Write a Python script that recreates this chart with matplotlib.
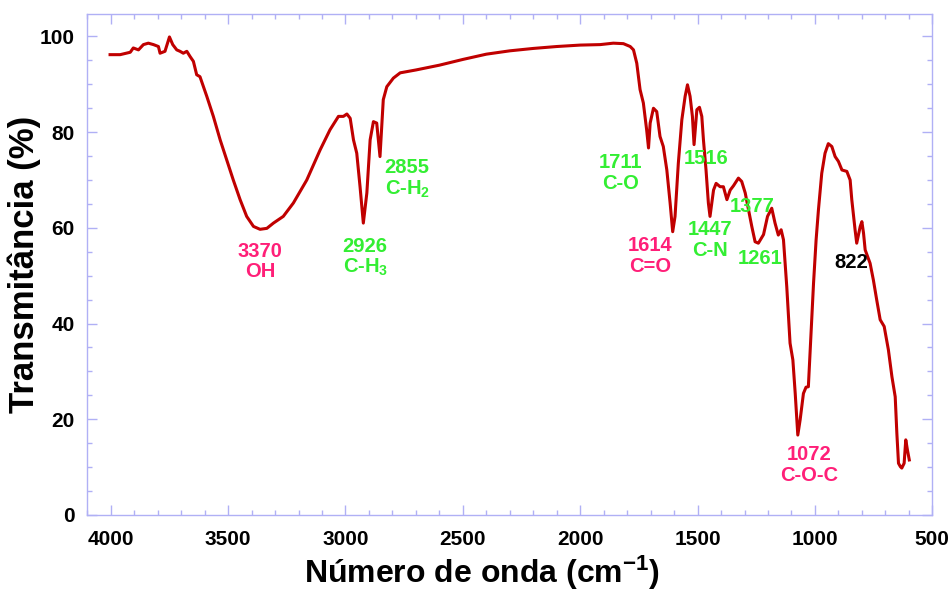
import matplotlib
matplotlib.use('Agg')
import matplotlib.pyplot as plt
from matplotlib.ticker import MultipleLocator

plt.rcParams['font.family'] = ['Liberation Sans', 'DejaVu Sans']
plt.rcParams['font.weight'] = 'bold'
plt.rcParams['mathtext.fontset'] = 'custom'
plt.rcParams['mathtext.rm'] = 'Liberation Sans:bold'
plt.rcParams['mathtext.it'] = 'Liberation Sans:bold'
plt.rcParams['mathtext.bf'] = 'Liberation Sans:bold'

# spectrum (wavenumber in cm-1, transmittance in %)
wavenumber = [4003, 3960, 3917, 3904, 3882, 3861, 3840, 3818, 3797, 3790,
              3769, 3750, 3736, 3719, 3705, 3691, 3676, 3662, 3648, 3641,
              3634, 3620, 3591, 3563, 3534, 3506, 3478, 3449, 3421, 3392,
              3364, 3335, 3307, 3265, 3222, 3165, 3108, 3066, 3030, 3009,
              2994, 2980, 2966, 2952, 2938, 2924, 2909, 2895, 2881, 2867,
              2853, 2839, 2824, 2796, 2767, 2700, 2600, 2500, 2400, 2300,
              2200, 2100, 2000, 1915, 1859, 1816, 1787, 1773, 1759, 1745,
              1731, 1717, 1709, 1702, 1688, 1674, 1660, 1646, 1631, 1617,
              1606, 1596, 1582, 1567, 1553, 1543, 1532, 1522, 1515, 1503,
              1492, 1482, 1475, 1464, 1454, 1447, 1432, 1421, 1404, 1390,
              1375, 1361, 1347, 1326, 1312, 1297, 1283, 1269, 1255, 1241,
              1219, 1202, 1184, 1170, 1156, 1144, 1134, 1120, 1106, 1094,
              1084, 1073, 1063, 1049, 1038, 1028, 1020, 1006, 995, 985,
              971, 957, 943, 928, 914, 900, 885, 864, 850, 843,
              829, 822, 807, 800, 793, 786, 765, 751, 737, 722,
              705, 687, 672, 658, 651, 644, 636, 630, 620, 613,
              606, 598]
transmittance = [96.2, 96.2, 96.7, 97.6, 97.2, 98.3, 98.6, 98.3, 97.9, 96.5,
                 96.9, 99.9, 98.3, 97.2, 96.9, 96.5, 96.9, 95.8, 94.8, 93.4,
                 92.0, 91.6, 87.5, 83.3, 78.4, 74.2, 70.0, 65.9, 62.4, 60.3,
                 59.7, 59.9, 61.0, 62.4, 65.2, 70.0, 76.3, 80.5, 83.3, 83.3,
                 83.8, 82.9, 78.4, 75.6, 68.6, 61.0, 67.3, 78.4, 82.2, 81.9,
                 74.9, 86.8, 89.5, 91.3, 92.4, 93.0, 94.0, 95.2, 96.3, 97.0,
                 97.5, 97.9, 98.2, 98.3, 98.6, 98.5, 97.9, 97.2, 94.4, 88.9,
                 86.1, 80.5, 76.7, 81.9, 85.0, 84.3, 79.1, 77.0, 72.1, 65.2,
                 59.2, 62.4, 73.5, 82.6, 87.5, 89.9, 87.5, 83.3, 77.4, 84.7,
                 85.2, 83.3, 78.4, 72.1, 65.2, 62.4, 67.9, 69.3, 68.6, 68.6,
                 65.9, 67.9, 68.8, 70.4, 69.7, 67.3, 63.8, 60.3, 57.1, 56.8,
                 58.6, 62.4, 64.1, 61.0, 58.5, 59.6, 57.5, 47.7, 35.9, 32.4,
                 25.4, 16.7, 19.9, 25.4, 26.7, 26.8, 34.5, 48.4, 57.5, 63.8,
                 71.4, 75.6, 77.6, 77.0, 74.9, 73.9, 72.1, 71.8, 70.0, 65.9,
                 59.6, 56.8, 60.3, 61.3, 58.9, 55.4, 52.6, 49.1, 45.0, 40.8,
                 39.4, 34.5, 28.9, 24.7, 17.1, 10.8, 10.1, 9.8, 10.8, 15.7,
                 13.6, 11.5]

# band labels: text, x, y (centre of the text block)
pink = '#ff1f78'
green = '#33ee33'
label_text = ['3370\nOH', '2926\nC-H$_3$', '2855\nC-H$_2$', '1711\nC-O',
              '1614\nC=O', '1516', '1447\nC-N', '1377', '1261', '822',
              '1072\nC-O-C']
label_x = [3364, 2916, 2737, 1830, 1702, 1464, 1447, 1268, 1234, 846, 1025]
label_y = [53.0, 53.8, 70.2, 71.5, 54.1, 74.4, 57.5, 64.4, 53.5, 52.7, 10.4]
label_color = [pink, green, green, green, pink, green, green, green, green,
               'black', pink]

axis_color = '#b0b0f5'

fig = plt.figure(figsize=(9.52, 5.95), dpi=100)
ax = fig.add_axes([0.0917, 0.1345, 0.8876, 0.842])

ax.plot(wavenumber, transmittance, color='#c00000', lw=2.2)

for t, x, y, c in zip(label_text, label_x, label_y, label_color):
    ax.text(x, y, t, color=c, fontsize=14.5, fontweight='bold',
            ha='center', va='center', linespacing=1.1)

ax.set_xlim(4100, 500)
ax.set_ylim(0, 104.7)
ax.xaxis.set_major_locator(MultipleLocator(500))
ax.xaxis.set_minor_locator(MultipleLocator(100))
ax.yaxis.set_major_locator(MultipleLocator(20))
ax.yaxis.set_minor_locator(MultipleLocator(5))

for s in ax.spines.values():
    s.set_color(axis_color)
    s.set_linewidth(1.0)
ax.tick_params(which='both', direction='in', top=True, right=True,
               color=axis_color, width=1.0)
ax.tick_params(which='major', length=7)
ax.tick_params(which='minor', length=3.5)
ax.tick_params(axis='x', which='major', labelsize=15, pad=11)
ax.tick_params(axis='y', which='major', labelsize=15, pad=9)
for lab in ax.get_xticklabels() + ax.get_yticklabels():
    lab.set_fontweight('bold')

ax.set_xlabel('Número de onda (cm$^{-1}$)', fontsize=23, fontweight='bold')
ax.xaxis.set_label_coords(0.467, -0.078)
ax.set_ylabel('Transmitância (%)', fontsize=25, fontweight='bold',
              labelpad=-1)

fig.savefig('out.png', dpi=100)
